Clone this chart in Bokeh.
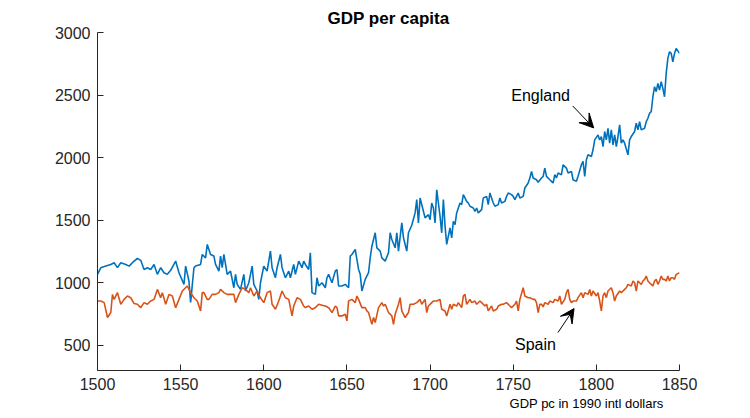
from bokeh.plotting import figure
from bokeh.models import Range1d, FixedTicker, Label, Arrow, VeeHead, Title
from bokeh.embed import file_html
from bokeh.resources import INLINE

england = [
    (1500,1068),(1502,1121),(1505,1134),(1508,1147),(1510,1161),(1512,1122),(1514,1161),(1517,1147),
    (1519,1134),(1521,1161),(1524,1196),(1526,1180),(1528,1107),(1530,1121),(1532,1107),(1534,1147),
    (1536,1068),(1538,1121),(1540,1081),(1542,1068),(1544,1100),(1547,1174),(1549,1081),(1552,988),
    (1553,1134),(1555,1015),(1556,844),(1558,1121),(1559,1134),(1562,1147),(1563,1227),(1565,1200),
    (1566,1307),(1568,1227),(1570,1214),(1571,1147),(1573,1094),(1574,1214),(1575,1121),(1576,1227),
    (1578,1068),(1580,1094),(1582,961),(1583,1068),(1584,988),(1586,948),(1588,1068),(1589,935),
    (1591,1001),(1593,1134),(1594,988),(1596,935),(1597,868),(1598,1001),(1600,1134),(1602,1094),
    (1604,1254),(1605,1121),(1607,1041),(1608,1121),(1610,1227),(1611,1121),(1613,1041),(1615,1094),
    (1616,1041),(1618,1147),(1619,1068),(1621,1174),(1623,1121),(1624,1174),(1625,1147),(1627,1107),
    (1628,1240),(1629,922),(1631,908),(1632,1041),(1633,975),(1635,1001),(1637,961),(1638,1041),
    (1639,1068),(1641,1001),(1643,1094),(1644,1107),(1645,975),(1647,975),(1649,988),(1651,961),
    (1652,1214),(1653,1227),(1655,1267),(1657,1107),(1658,1068),(1659,935),(1661,1028),(1663,1081),
    (1664,1200),(1665,1293),(1667,1400),(1668,1280),(1670,1254),(1671,1200),(1673,1174),(1675,1240),
    (1676,1400),(1677,1346),(1679,1280),(1680,1400),(1681,1254),(1683,1479),(1684,1360),(1686,1254),
    (1687,1400),(1689,1460),(1691,1559),(1692,1665),(1693,1479),(1694,1678),(1696,1572),(1697,1519),
    (1699,1545),(1700,1505),(1701,1638),(1702,1599),(1703,1479),(1704,1744),(1706,1532),(1707,1400),
    (1708,1665),(1709,1453),(1710,1307),(1712,1439),(1713,1360),(1714,1492),(1715,1466),(1716,1559),
    (1718,1638),(1719,1625),(1720,1705),(1722,1651),(1723,1638),(1724,1612),(1726,1598),(1727,1572),
    (1728,1598),(1729,1559),(1731,1585),(1732,1678),(1734,1691),(1735,1625),(1736,1718),(1738,1638),
    (1739,1612),(1741,1625),(1742,1678),(1743,1638),(1745,1651),(1746,1691),(1747,1718),(1749,1705),
    (1750,1691),(1751,1665),(1753,1718),(1754,1678),(1756,1691),(1757,1758),(1759,1798),(1760,1838),
    (1761,1890),(1762,1838),(1764,1824),(1765,1803),(1767,1838),(1768,1851),(1769,1917),(1770,1851),
    (1772,1824),(1773,1811),(1774,1798),(1775,1864),(1776,1838),(1777,1877),(1779,1864),(1780,1943),
    (1782,1917),(1783,1877),(1785,1890),(1786,1824),(1788,1811),(1789,1851),(1791,1943),(1792,1970),
    (1793,1851),(1794,1983),(1795,2023),(1797,2010),(1798,2063),(1799,2142),(1801,2182),(1802,2142),
    (1803,2169),(1804,2089),(1805,2209),(1806,2142),(1807,2235),(1808,2116),(1809,2222),(1810,2103),
    (1811,2182),(1812,2089),(1813,2169),(1814,2262),(1815,2116),(1816,2142),(1817,2116),(1819,2023),
    (1820,2142),(1821,2169),(1823,2209),(1824,2275),(1825,2222),(1826,2288),(1827,2222),(1829,2235),
    (1830,2288),(1831,2315),(1832,2355),(1833,2368),(1834,2487),(1835,2567),(1836,2527),(1837,2594),
    (1838,2540),(1839,2607),(1840,2554),(1841,2487),(1842,2674),(1843,2793),(1844,2846),(1845,2833),
    (1846,2766),(1847,2833),(1848,2873),(1850,2833),
]
england_year = [a for a, b in england]
england_gdp = [b for a, b in england]

spain = [
    (1500,855),(1502,855),(1504,842),(1506,723),(1508,763),(1509,908),(1510,868),(1512,922),(1514,829),
    (1516,868),(1518,895),(1520,881),(1522,835),(1524,829),(1526,802),(1528,842),(1530,829),(1532,855),
    (1534,868),(1536,948),(1538,881),(1539,922),(1541,829),(1543,908),(1545,895),(1547,802),(1549,868),
    (1551,935),(1554,975),(1556,922),(1558,881),(1560,855),(1562,776),(1563,922),(1564,922),(1566,868),
    (1567,868),(1569,908),(1571,908),(1573,922),(1574,948),(1576,922),(1578,908),(1580,908),(1582,908),
    (1583,842),(1585,908),(1587,961),(1589,948),(1591,922),(1592,961),(1594,895),(1596,935),(1598,881),
    (1600,842),(1602,922),(1604,935),(1605,829),(1607,789),(1609,855),(1611,935),(1613,881),(1615,868),
    (1617,736),(1618,815),(1620,881),(1622,868),(1624,815),(1625,802),(1626,809),(1627,815),(1629,789),
    (1631,802),(1633,829),(1635,822),(1637,815),(1639,802),(1641,763),(1643,815),(1644,802),(1645,736),
    (1647,736),(1649,749),(1650,696),(1651,855),(1653,868),(1655,842),(1656,895),(1657,868),(1659,802),
    (1661,802),(1662,776),(1663,763),(1665,669),(1666,723),(1667,683),(1669,802),(1671,842),(1672,815),
    (1673,829),(1675,763),(1677,736),(1678,669),(1679,749),(1681,829),(1682,882),(1683,776),(1685,723),
    (1687,763),(1688,829),(1689,829),(1690,829),(1692,842),(1694,868),(1695,829),(1697,868),(1698,763),
    (1699,815),(1701,842),(1702,855),(1704,855),(1706,868),(1707,789),(1709,776),(1710,736),(1712,829),
    (1713,789),(1714,829),(1716,815),(1717,842),(1719,802),(1720,895),(1721,908),(1722,829),(1724,868),
    (1725,842),(1727,855),(1728,829),(1730,855),(1731,842),(1733,815),(1734,829),(1735,776),(1737,815),
    (1738,776),(1740,789),(1741,815),(1743,829),(1744,829),(1746,842),(1748,815),(1749,802),(1751,829),
    (1752,855),(1753,776),(1754,868),(1756,961),(1757,895),(1759,881),(1760,881),(1762,868),(1763,868),
    (1764,842),(1765,763),(1766,829),(1767,829),(1768,808),(1769,842),(1771,829),(1772,855),(1774,842),
    (1775,868),(1777,855),(1778,895),(1779,829),(1781,868),(1782,922),(1783,948),(1784,868),(1785,842),
    (1786,855),(1788,855),(1789,882),(1791,922),(1792,882),(1793,922),(1795,908),(1796,948),(1797,895),
    (1798,935),(1800,895),(1801,922),(1802,855),(1803,776),(1804,895),(1805,922),(1806,882),(1807,935),
    (1809,961),(1810,922),(1811,855),(1812,895),(1814,935),(1815,922),(1817,948),(1818,961),(1819,988),
    (1821,975),(1822,1015),(1823,1001),(1824,935),(1825,1015),(1826,1001),(1827,988),(1828,1015),
    (1829,1028),(1830,1054),(1831,1015),(1832,1001),(1833,988),(1834,975),(1835,1015),(1836,1028),
    (1837,988),(1838,1015),(1839,1054),(1840,1028),(1841,1028),(1842,1015),(1843,1054),(1844,1015),
    (1845,1041),(1846,1041),(1847,1028),(1848,1068),(1850,1081),
]
spain_year = [a for a, b in spain]
spain_gdp = [b for a, b in spain]

x_ticks = [1500, 1550, 1600, 1650, 1700, 1750, 1800, 1850]
y_ticks = [500, 1000, 1500, 2000, 2500, 3000]

FONT = "Liberation Sans"
AX = "#262626"

p = figure(frame_width=582, frame_height=338, output_backend="svg", toolbar_location=None,
           x_range=Range1d(1500, 1850), y_range=Range1d(300, 3000),
           min_border_left=97, min_border_right=60, min_border_top=32, min_border_bottom=46)
p.outline_line_color = None
p.grid.visible = False
p.background_fill_color = "white"
p.border_fill_color = "white"

p.title.text = "GDP per capita"
p.title.align = "center"
p.title.text_font = FONT
p.title.text_font_size = "17px"
p.title.text_font_style = "bold"
p.title.text_color = "black"
p.title.standoff = 9

p.add_layout(Title(text="GDP pc in 1990 intl dollars", align="right", offset=16, text_font=FONT,
                   text_font_size="13px", text_font_style="normal", text_color="black", standoff=3),
             "below")

for ax, ticks in ((p.xaxis, x_ticks), (p.yaxis, y_ticks)):
    ax.ticker = FixedTicker(ticks=ticks)
    ax.minor_tick_line_color = None
    ax.major_tick_in = 6
    ax.major_tick_out = 0
    ax.axis_line_color = AX
    ax.major_tick_line_color = AX
    ax.major_label_text_color = AX
    ax.major_label_text_font = FONT
    ax.major_label_text_font_size = "16px"
p.xaxis.major_label_standoff = 7
p.yaxis.major_label_standoff = 7

p.line(england_year, england_gdp, line_color="#0072BD", line_width=1.6)
p.line(spain_year, spain_gdp, line_color="#D95319", line_width=1.6)

p.add_layout(Label(x=1766.5, y=2493, text="England", text_font=FONT, text_font_size="16px",
                   text_align="center", text_baseline="middle", text_color="black"))
p.add_layout(Label(x=1763.4, y=510, text="Spain", text_font=FONT, text_font_size="16px",
                   text_align="center", text_baseline="middle", text_color="black"))

for (x0, y0, x1, y1) in ((1785.8, 2413, 1798.4, 2238), (1776.9, 603, 1786.6, 795)):
    p.add_layout(Arrow(x_start=x0, y_start=y0, x_end=x1, y_end=y1, line_color="black", line_width=1,
                       end=VeeHead(size=14, fill_color="black", line_color="black", line_width=1)))

open("out.html", "w").write(file_html(p, INLINE))
